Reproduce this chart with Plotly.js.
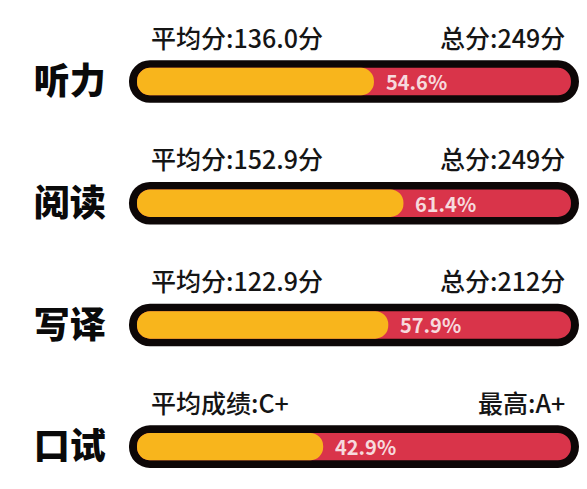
<!DOCTYPE html>
<html>
<head>
<meta charset="utf-8">
<script src="https://cdn.plot.ly/plotly-3.0.1.min.js"></script>
<style>
  html, body { margin: 0; padding: 0; background: #fff; }
  #myDiv { width: 587px; height: 489px; }
</style>
</head>
<body>
<div id="myDiv"></div>
<script>
var subjects = ['听力', '阅读', '写译', '口试'];
var percents = [54.6, 61.4, 57.9, 42.9];
var leftNotes = ['平均分:136.0分', '平均分:152.9分', '平均分:122.9分', '平均成绩:C+'];
var rightNotes = ['总分:249分', '总分:249分', '总分:212分', '最高:A+'];

var FONT = '"Noto Sans CJK SC", "Noto Sans", sans-serif';

// black outline pill, a bit longer and thicker than the track
var outline = {
  type: 'bar',
  orientation: 'h',
  y: subjects,
  base: subjects.map(function() { return -1.85; }),
  x: subjects.map(function() { return 103.7; }),
  width: 0.35,
  marker: { color: '#0d0707', cornerradius: '50%' },
  hoverinfo: 'skip'
};

// red full track
var track = {
  type: 'bar',
  orientation: 'h',
  y: subjects,
  base: subjects.map(function() { return 0; }),
  x: subjects.map(function() { return 100; }),
  width: 0.225,
  marker: { color: '#d9344a', cornerradius: '50%' },
  hoverinfo: 'skip'
};

// yellow share
var share = {
  type: 'bar',
  orientation: 'h',
  y: subjects,
  base: subjects.map(function() { return 0; }),
  x: percents,
  width: 0.225,
  marker: { color: '#f8b51c', cornerradius: '50%' },
  hoverinfo: 'skip'
};

var annotations = [];
subjects.forEach(function(s, i) {
  annotations.push({
    x: percents[i], y: i, xref: 'x', yref: 'y',
    text: percents[i].toFixed(1) + '%',
    showarrow: false, xanchor: 'left', yanchor: 'middle', xshift: 10,
    font: { family: FONT, size: 20, color: '#f6dadd', weight: 'bold' }
  });
  annotations.push({
    x: 0, y: i, xref: 'x', yref: 'y',
    text: leftNotes[i],
    showarrow: false, xanchor: 'left', yanchor: 'middle', xshift: 12, yshift: 45,
    font: { family: FONT, size: 25, color: '#151515', weight: 500 }
  });
  annotations.push({
    x: 100, y: i, xref: 'x', yref: 'y',
    text: rightNotes[i],
    showarrow: false, xanchor: 'right', yanchor: 'middle', xshift: -4, yshift: 45,
    font: { family: FONT, size: 25, color: '#151515', weight: 500 }
  });
});

var layout = {
  width: 587,
  height: 489,
  margin: { l: 118, r: 0, t: 0, b: 0, pad: 0 },
  paper_bgcolor: '#ffffff',
  plot_bgcolor: '#ffffff',
  barmode: 'overlay',
  showlegend: false,
  xaxis: {
    range: [-4.38, 103.7],
    visible: false,
    fixedrange: true
  },
  yaxis: {
    type: 'category',
    range: [3.348, -0.67],
    showgrid: false,
    zeroline: false,
    showline: false,
    ticks: 'outside',
    ticklen: 4,
    tickcolor: 'rgba(0,0,0,0)',
    tickfont: { family: FONT, size: 36, color: '#0a0a0a', weight: 900 },
    fixedrange: true
  },
  annotations: annotations
};

Plotly.newPlot('myDiv', [outline, track, share], layout, { displayModeBar: false, staticPlot: true });
</script>
</body>
</html>
